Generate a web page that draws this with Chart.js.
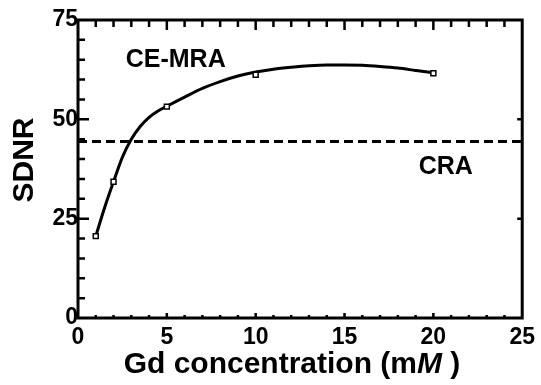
<!DOCTYPE html>
<html>
<head>
<meta charset="utf-8">
<script src="https://cdn.jsdelivr.net/npm/chart.js@4"></script>
<style>
  body { margin: 0; background: #fff; }
  canvas { display: block; }
</style>
</head>
<body>
<canvas id="sdnrChart" width="541" height="385"></canvas>
<script>
// measured points (Gd concentration, SDNR)
const markerX = [1, 2, 5, 10, 20];
const markerY = [20.6, 34.3, 53.2, 61.2, 61.6];

// fitted curve
const curveX = [1, 1.5, 2, 2.5, 3, 3.5, 4, 4.5, 5, 6, 7, 8, 9, 10, 11, 12, 13, 14, 15, 16, 17, 18, 19, 20];
const curveY = [20.6, 27.8, 34.3, 40.5, 45, 48.2, 50.5, 52.1, 53.3, 55.6, 57.8, 59.5, 60.9, 61.9, 62.6, 63.1, 63.5, 63.7, 63.7, 63.6, 63.3, 62.9, 62.3, 61.7];

// CRA level (dashed)
const craX = [0, 25];
const craY = [44.4, 44.4];

const xTicks = [0, 5, 10, 15, 20, 25];
const yTicks = [0, 25, 50, 75];

const toPts = (xs, ys) => xs.map((x, i) => ({x: x, y: ys[i]}));
const FONT = '"Liberation Sans", Arial, sans-serif';

const framePlugin = {
  id: 'frame',
  afterDraw(chart) {
    const {ctx, chartArea: a, scales: {x, y}} = chart;
    ctx.save();
    ctx.strokeStyle = '#000';
    ctx.lineWidth = 3;
    ctx.strokeRect(a.left, a.top, a.right - a.left, a.bottom - a.top);

    // inward ticks
    ctx.lineWidth = 2.5;
    ctx.beginPath();
    for (let v = 1; v < 25; v++) {
      const px = x.getPixelForValue(v);
      const major = v % 5 === 0;
      ctx.moveTo(px, a.top);
      ctx.lineTo(px, a.top + (major ? 10 : 7));
      ctx.moveTo(px, a.bottom);
      ctx.lineTo(px, a.bottom - (major ? 5 : 3));
    }
    for (let v = 5; v < 75; v += 5) {
      const py = y.getPixelForValue(v);
      const major = v % 25 === 0;
      ctx.moveTo(a.left, py);
      ctx.lineTo(a.left + (major ? 11 : 7), py);
      if (major) {
        ctx.moveTo(a.right, py);
        ctx.lineTo(a.right - 5, py);
      }
    }
    ctx.stroke();

    // annotations
    ctx.fillStyle = '#000';
    ctx.font = 'bold 25px ' + FONT;
    ctx.textAlign = 'center';
    ctx.textBaseline = 'middle';
    ctx.fillText('CE-MRA', x.getPixelForValue(5.5), y.getPixelForValue(65));
    ctx.fillText('CRA', x.getPixelForValue(20.7), y.getPixelForValue(38));

    // y title
    ctx.save();
    ctx.translate(25, 160);
    ctx.rotate(-Math.PI / 2);
    ctx.font = 'bold 30px ' + FONT;
    ctx.fillText('SDNR', 0, 0);
    ctx.restore();

    // x title with italic M
    const parts = [
      ['Gd concentration (m', 'bold 30px ' + FONT],
      ['M', 'italic bold 30px ' + FONT],
      [' )', 'bold 30px ' + FONT]
    ];
    let total = 0;
    parts.forEach(p => { ctx.font = p[1]; total += ctx.measureText(p[0]).width; });
    let cx = 292 - total / 2;
    ctx.textAlign = 'left';
    parts.forEach(p => {
      ctx.font = p[1];
      ctx.fillText(p[0], cx, 365);
      cx += ctx.measureText(p[0]).width;
    });
    ctx.restore();
  }
};

new Chart(document.getElementById('sdnrChart'), {
  type: 'scatter',
  data: {
    datasets: [
      {
        label: 'CE-MRA markers',
        data: toPts(markerX, markerY),
        pointStyle: 'rect',
        pointRadius: 3.5,
        borderWidth: 1.5,
        borderColor: '#000',
        backgroundColor: '#fff'
      },
      {
        label: 'CE-MRA',
        data: toPts(curveX, curveY),
        showLine: true,
        cubicInterpolationMode: 'monotone',
        borderColor: '#000',
        borderWidth: 3,
        pointRadius: 0
      },
      {
        label: 'CRA',
        data: toPts(craX, craY),
        showLine: true,
        borderColor: '#000',
        borderWidth: 3,
        borderDash: [9, 5],
        pointRadius: 0
      }
    ]
  },
  options: {
    responsive: false,
    animation: false,
    events: [],
    layout: { padding: { left: 0, right: 18, top: 20, bottom: 0 } },
    plugins: {
      legend: { display: false },
      tooltip: { enabled: false }
    },
    scales: {
      x: {
        type: 'linear',
        min: 0,
        max: 25,
        afterBuildTicks: s => { s.ticks = xTicks.map(v => ({value: v})); },
        afterFit: s => { s.height = 67; },
        grid: { display: false, drawTicks: false },
        border: { display: false },
        ticks: {
          padding: 6,
          maxRotation: 0,
          color: '#000',
          font: { family: FONT, size: 23, weight: 'bold' }
        }
      },
      y: {
        min: 0,
        max: 75,
        afterBuildTicks: s => { s.ticks = yTicks.map(v => ({value: v})); },
        afterFit: s => { s.width = 78; },
        grid: { display: false, drawTicks: false },
        border: { display: false },
        ticks: {
          padding: 0,
          color: '#000',
          font: { family: FONT, size: 23, weight: 'bold' }
        }
      }
    }
  },
  plugins: [framePlugin]
});
</script>
</body>
</html>
